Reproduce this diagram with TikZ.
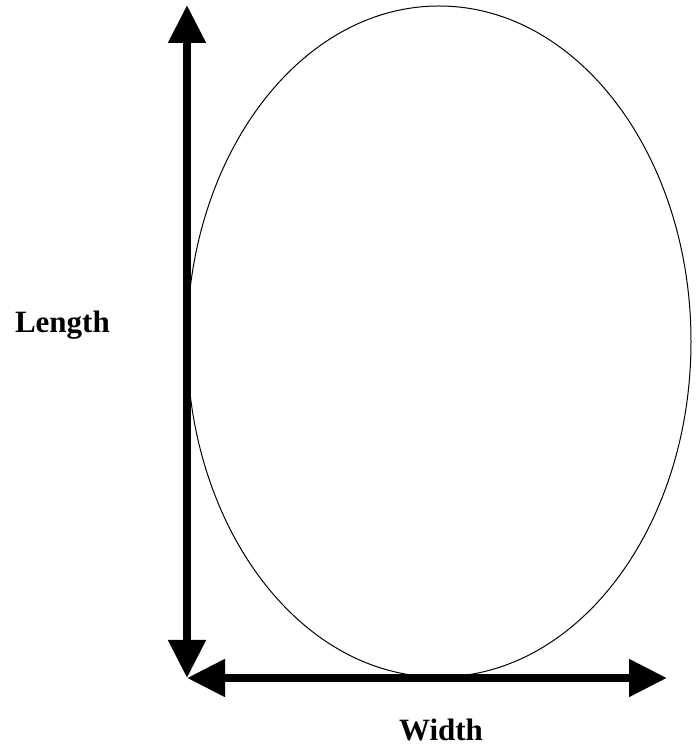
\documentclass[tikz,border=0pt]{standalone}
\usepackage{fontspec}
\setmainfont{Liberation Serif}
\usepackage{tikz}
\usetikzlibrary{arrows.meta,positioning}

\tikzset{
    axisarrow/.style={line width=8pt, {Triangle[length=38pt,width=36pt]}-{Triangle[length=38pt,width=36pt]}},
    axislabel/.style={font=\fontsize{31}{37}\selectfont\bfseries, inner sep=0pt}
}

\begin{document}
\begin{tikzpicture}[x=1pt,y=1pt]
\useasboundingbox (0,0) rectangle (696,748);
% the egg outline
\draw[line width=1pt] (439,406.5) ellipse [x radius=252, y radius=335.5];
% corner and ends of the two axes
\coordinate (origin) at (187,70);
\coordinate (top) at (187,743);
\coordinate (right) at (667,70);
\draw[axisarrow] (origin) -- (top);
\draw[axisarrow] (origin) -- (right);
% labels
\node[axislabel, anchor=base east] (length) at (110,415) {Length};
\node[axislabel, anchor=base] (width) at (441,7) {Width};
\end{tikzpicture}
\end{document}
